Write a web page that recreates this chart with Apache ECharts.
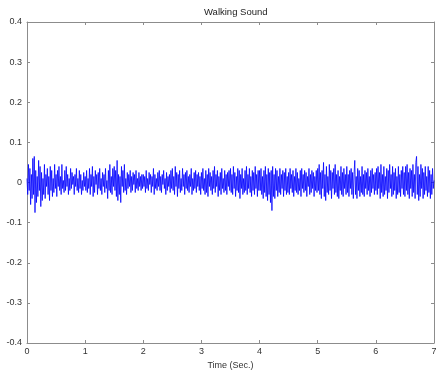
<!DOCTYPE html>
<html>
<head>
<meta charset="utf-8">
<script src="https://cdn.jsdelivr.net/npm/echarts@6/dist/echarts.min.js"></script>
<style>
  html, body { margin: 0; padding: 0; background: #fff; }
  #chart { width: 436px; height: 371px; }
</style>
</head>
<body>
<div id="chart"></div>
<script>
// recording length in seconds
const duration = 7;

// amplitude, 40 samples per half second
const amplitude = [
  0.01,-0.03,0.045,-0.02,0.035,-0.055,0.02,-0.04,0.06,-0.03,0.065,-0.075,0.03,-0.05,0.015,-0.035,0.055,-0.02,0.04,-0.06,0.025,-0.045,0.01,-0.03,0.045,-0.04,0.02,-0.01,0.035,-0.03,0.015,-0.045,0.04,-0.02,0.03,-0.035,0.01,-0.025,0.045,-0.015,
  0.02,-0.035,0.03,-0.01,0.04,-0.02,0.015,-0.03,0.045,-0.015,0.005,-0.025,0.03,-0.02,0.04,-0.01,0.02,-0.03,0.01,-0.02,0.035,-0.015,0.025,-0.005,0.015,-0.03,0.02,-0.01,0.035,-0.02,0.01,-0.025,0.03,-0.015,0.02,-0.03,0.005,-0.02,0.025,-0.01,
  0.015,-0.02,0.03,-0.025,0.01,-0.015,0.035,-0.03,0.02,-0.01,0.04,-0.035,0.015,-0.025,0.03,-0.005,0.02,-0.03,0.025,-0.015,0.035,-0.02,0.01,-0.03,0.025,-0.01,0.02,-0.025,0.035,-0.015,0.005,-0.04,0.03,-0.02,0.045,-0.025,0.015,-0.03,0.035,-0.01,
  0.04,-0.02,0.03,-0.035,0.055,-0.045,0.02,-0.03,0.015,-0.05,0.04,-0.01,0.03,-0.025,0.045,-0.02,0.01,-0.03,0.025,-0.015,0.02,-0.01,0.03,-0.025,0.015,-0.02,0.025,-0.005,0.02,-0.025,0.03,-0.015,0.01,-0.02,0.025,-0.01,0.015,-0.02,0.02,-0.015,
  0.02,-0.01,0.015,-0.025,0.03,-0.015,0.01,-0.02,0.025,-0.005,0.02,-0.025,0.015,-0.01,0.035,-0.03,0.02,-0.015,0.01,-0.02,0.025,-0.01,0.03,-0.02,0.015,-0.025,0.02,-0.005,0.03,-0.015,0.01,-0.03,0.025,-0.02,0.015,-0.01,0.02,-0.025,0.03,-0.015,
  0.035,-0.02,0.015,-0.03,0.04,-0.01,0.025,-0.035,0.02,-0.015,0.03,-0.025,0.01,-0.02,0.035,-0.01,0.02,-0.03,0.025,-0.015,0.03,-0.02,0.015,-0.025,0.02,-0.01,0.035,-0.03,0.01,-0.02,0.025,-0.015,0.03,-0.025,0.02,-0.01,0.025,-0.02,0.015,-0.03,
  0.025,-0.015,0.035,-0.02,0.01,-0.03,0.03,-0.025,0.02,-0.035,0.035,-0.01,0.025,-0.02,0.015,-0.03,0.03,-0.015,0.04,-0.025,0.02,-0.01,0.03,-0.035,0.015,-0.02,0.025,-0.03,0.035,-0.015,0.01,-0.025,0.03,-0.02,0.02,-0.03,0.025,-0.01,0.03,-0.02,
  0.035,-0.025,0.02,-0.03,0.04,-0.015,0.025,-0.035,0.015,-0.02,0.035,-0.025,0.03,-0.04,0.02,-0.015,0.035,-0.03,0.01,-0.025,0.03,-0.02,0.04,-0.03,0.02,-0.015,0.035,-0.025,0.015,-0.035,0.03,-0.02,0.025,-0.03,0.04,-0.015,0.02,-0.035,0.03,-0.02,
  0.03,-0.02,0.035,-0.03,0.015,-0.04,0.03,-0.025,0.04,-0.035,0.02,-0.045,0.035,-0.03,0.025,-0.05,0.03,-0.07,0.04,-0.035,0.02,-0.04,0.035,-0.02,0.03,-0.035,0.015,-0.025,0.035,-0.03,0.02,-0.015,0.03,-0.035,0.025,-0.02,0.035,-0.03,0.015,-0.025,
  0.025,-0.03,0.035,-0.015,0.02,-0.025,0.03,-0.035,0.015,-0.02,0.035,-0.025,0.025,-0.03,0.01,-0.02,0.03,-0.035,0.035,-0.015,0.02,-0.025,0.03,-0.02,0.025,-0.035,0.015,-0.01,0.035,-0.03,0.02,-0.025,0.03,-0.015,0.025,-0.035,0.015,-0.02,0.03,-0.025,
  0.035,-0.02,0.045,-0.03,0.025,-0.04,0.03,-0.015,0.05,-0.035,0.02,-0.045,0.04,-0.025,0.015,-0.03,0.045,-0.02,0.03,-0.04,0.025,-0.015,0.035,-0.03,0.045,-0.025,0.02,-0.035,0.03,-0.04,0.015,-0.02,0.04,-0.03,0.025,-0.035,0.035,-0.015,0.02,-0.03,
  0.04,-0.025,0.02,-0.035,0.03,-0.015,0.035,-0.03,0.025,-0.04,0.02,0.055,-0.03,0.015,-0.04,0.035,-0.02,0.03,-0.035,0.015,-0.025,0.04,-0.03,0.02,-0.035,0.03,-0.015,0.025,-0.03,0.035,-0.02,0.015,-0.035,0.03,-0.025,0.035,-0.015,0.02,-0.03,0.025,
  -0.02,0.035,-0.03,0.04,-0.015,0.025,-0.04,0.045,-0.025,0.02,-0.035,0.04,-0.03,0.015,-0.02,0.035,-0.04,0.03,-0.025,0.045,-0.015,0.02,-0.035,0.04,-0.03,0.025,-0.02,0.035,-0.04,0.015,-0.03,0.04,-0.025,0.02,-0.035,0.03,-0.015,0.04,-0.03,0.025,
  -0.035,0.04,-0.02,0.045,-0.03,0.025,-0.04,0.035,-0.015,0.03,-0.035,0.045,-0.025,0.02,-0.04,0.05,0.065,-0.03,0.04,-0.045,0.02,-0.035,0.045,-0.015,0.035,-0.04,0.025,-0.03,0.04,-0.02,0.015,-0.035,0.04,-0.025,0.03,-0.04,0.02,-0.03,0.035,-0.015,
  0.005
];

const font = 'Liberation Sans, Arial, sans-serif';
const axisGray = '#8c8c8c';
const labelColor = '#333';

const step = duration / (amplitude.length - 1);
const points = amplitude.map((v, i) => [i * step, v]);

const chart = echarts.init(document.getElementById('chart'));

// plain gray axis with ticks pointing into the plot
function boxAxis(extra) {
  return Object.assign({
    axisLine: { show: true, onZero: false, lineStyle: { color: axisGray, width: 1 } },
    axisTick: { show: true, inside: true, length: 3, lineStyle: { color: axisGray } },
    splitLine: { show: false }
  }, extra);
}

chart.setOption({
  animation: false,
  title: {
    text: 'Walking Sound',
    left: 199,
    top: 2,
    textStyle: { fontFamily: font, fontSize: 9.5, fontWeight: 'normal', color: '#222' }
  },
  grid: { left: 27, right: 2, top: 22, bottom: 28, outerBoundsMode: 'none', containLabel: false },
  xAxis: [
    boxAxis({
      type: 'value', min: 0, max: 7, interval: 1, position: 'bottom',
      name: 'Time (Sec.)', nameLocation: 'middle', nameGap: 15,
      nameTextStyle: { fontFamily: font, fontSize: 9, color: labelColor },
      axisLabel: { fontFamily: font, fontSize: 9, color: labelColor, margin: 4 }
    }),
    boxAxis({
      type: 'value', min: 0, max: 7, interval: 1, position: 'top',
      axisLabel: { show: false }
    })
  ],
  yAxis: [
    boxAxis({
      type: 'value', min: -0.4, max: 0.4, interval: 0.1, position: 'left',
      axisLabel: { fontFamily: font, fontSize: 9, color: labelColor, margin: 5 }
    }),
    boxAxis({
      type: 'value', min: -0.4, max: 0.4, interval: 0.1, position: 'right',
      axisLabel: { show: false }
    })
  ],
  series: [{
    type: 'line',
    data: points,
    showSymbol: false,
    sampling: null,
    lineStyle: { color: '#0000ff', width: 0.8 },
    silent: true
  }]
});
</script>
</body>
</html>
